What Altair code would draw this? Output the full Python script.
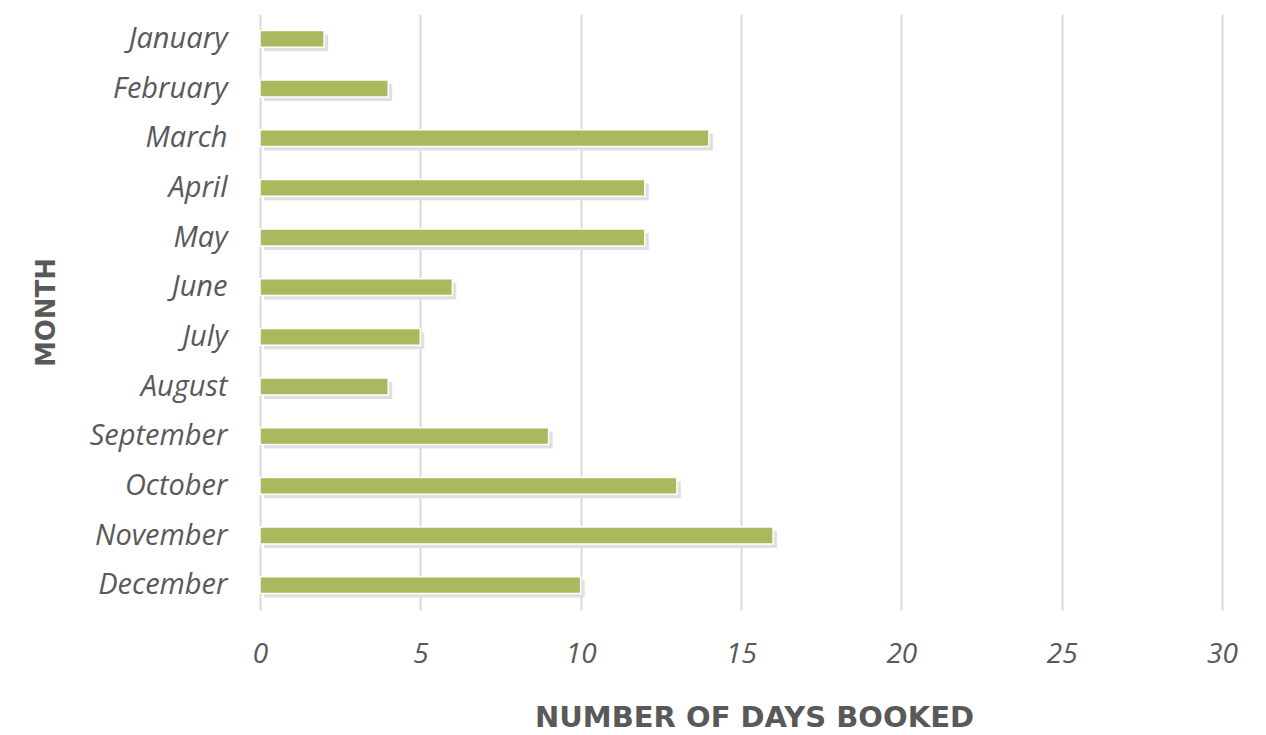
import altair as alt
import pandas as pd

months = ["January", "February", "March", "April", "May", "June", "July",
          "August", "September", "October", "November", "December"]
days = [2, 4, 14, 12, 12, 6, 5, 4, 9, 13, 16, 10]

df = pd.DataFrame({"Month": months, "Days": days})

FONT = "Open Sans"
TFONT = "DejaVu Sans"
GREY = "#595959"

x = alt.X("Days:Q", scale=alt.Scale(domain=[0, 30], nice=False),
          axis=alt.Axis(values=[0, 5, 10, 15, 20, 25, 30], title="NUMBER OF DAYS BOOKED",
                        grid=True, gridColor="#D9D9D9", gridWidth=2, domain=False, ticks=False,
                        labelFlush=False,
                        labelFont=FONT, labelFontStyle="italic", labelFontSize=28,
                        labelColor=GREY, labelPadding=30,
                        titleFont=TFONT, titleFontWeight="bold", titleFontSize=29,
                        titleColor=GREY, titlePadding=35, titleX=494))
y = alt.Y("Month:N", sort=months,
          scale=alt.Scale(paddingInner=0.66, paddingOuter=0.33),
          axis=alt.Axis(title="MONTH", domain=False, ticks=False,
                        labelFont=FONT, labelFontStyle="italic", labelFontSize=29,
                        labelColor=GREY, labelPadding=33,
                        titleFont=TFONT, titleFontWeight="bold", titleFontSize=26,
                        titleColor=GREY, titlePadding=30))

shadow = alt.Chart(df).mark_bar(color="#E0E0E0", xOffset=4, yOffset=4).encode(x=x, y=y)
bars = alt.Chart(df).mark_bar(color="#A9B95E", stroke="white", strokeWidth=1.5).encode(x=x, y=y)

chart = (shadow + bars).properties(
    width=962, height=596,
    padding={"left": 25, "top": 6, "right": 2, "bottom": 2},
).configure_view(stroke=None)

chart.save("out.html", embed_options={"renderer": "svg", "actions": False})
